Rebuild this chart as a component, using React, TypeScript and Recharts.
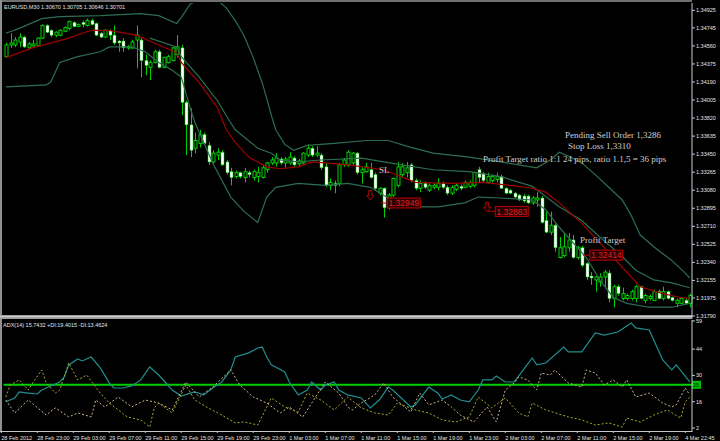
import React from 'react';
import { ComposedChart, Bar, Line, XAxis, YAxis, ReferenceDot, ReferenceLine } from 'recharts';

// ---------- price data (EURUSD M30), one value per bar ----------
const opens = [1.3445,1.3457,1.3457,1.3460,1.3465,1.3454,1.3456,1.3456,1.3464,1.3477,
1.3472,1.3467,1.3467,1.3471,1.3474,1.3480,1.3476,1.3480,1.3477,1.3482,
1.3479,1.3469,1.3465,1.3472,1.3467,1.3461,1.3461,1.3454,1.3454,1.3462,
1.3462,1.3441,1.3434,1.3439,1.3450,1.3434,1.3439,1.3441,1.3447,1.3454,
1.3398,1.3375,1.3351,1.3356,1.3365,1.3354,1.3337,1.3344,1.3347,1.3337,
1.3327,1.3322,1.3326,1.3321,1.3326,1.3321,1.3322,1.3321,1.3329,1.3336,
1.3336,1.3340,1.3336,1.3336,1.3341,1.3335,1.3336,1.3344,1.3351,1.3344,
1.3344,1.3332,1.3313,1.3315,1.3315,1.3334,1.3334,1.3336,1.3346,1.3326,
1.3327,1.3329,1.3324,1.3305,1.3310,1.3290,1.3303,1.3313,1.3324,1.3326,
1.3334,1.3318,1.3310,1.3315,1.3308,1.3311,1.3311,1.3315,1.3311,1.3305,
1.3309,1.3312,1.3311,1.3312,1.3313,1.3329,1.3325,1.3316,1.3318,1.3319,
1.3322,1.3310,1.3308,1.3305,1.3303,1.3302,1.3302,1.3295,1.3298,1.3300,
1.3277,1.3265,1.3272,1.3239,1.3241,1.3249,1.3257,1.3239,1.3249,1.3233,
1.3220,1.3216,1.3214,1.3219,1.3223,1.3197,1.3209,1.3197,1.3197,1.3197,
1.3197,1.3209,1.3195,1.3197,1.3195,1.3204,1.3197,1.3204,1.3198,1.3192,
1.3192,1.3195,1.3192];

const highs = [1.3459,1.3469,1.3465,1.3469,1.3466,1.3460,1.3462,1.3465,1.3478,1.3478,
1.3473,1.3471,1.3473,1.3476,1.3482,1.3481,1.3479,1.3482,1.3484,1.3484,
1.3480,1.3470,1.3473,1.3473,1.3477,1.3462,1.3464,1.3457,1.3462,1.3477,
1.3464,1.3447,1.3441,1.3452,1.3452,1.3445,1.3447,1.3455,1.3467,1.3457,
1.3400,1.3392,1.3367,1.3370,1.3367,1.3357,1.3349,1.3351,1.3349,1.3339,
1.3331,1.3328,1.3327,1.3331,1.3328,1.3329,1.3332,1.3333,1.3337,1.3342,
1.3346,1.3342,1.3342,1.3347,1.3343,1.3340,1.3347,1.3355,1.3353,1.3353,
1.3346,1.3336,1.3320,1.3318,1.3336,1.3341,1.3349,1.3347,1.3347,1.3332,
1.3336,1.3336,1.3326,1.3311,1.3311,1.3305,1.3321,1.3337,1.3336,1.3337,
1.3336,1.3320,1.3318,1.3317,1.3315,1.3315,1.3320,1.3317,1.3313,1.3313,
1.3315,1.3314,1.3318,1.3318,1.3327,1.3332,1.3327,1.3326,1.3324,1.3326,
1.3324,1.3311,1.3309,1.3306,1.3304,1.3304,1.3303,1.3302,1.3306,1.3302,
1.3286,1.3286,1.3274,1.3260,1.3264,1.3264,1.3262,1.3251,1.3251,1.3234,
1.3224,1.3220,1.3223,1.3226,1.3226,1.3211,1.3211,1.3208,1.3202,1.3206,
1.3211,1.3210,1.3202,1.3201,1.3206,1.3206,1.3209,1.3205,1.3199,1.3197,
1.3198,1.3197,1.3202];

const lows = [1.3444,1.3454,1.3455,1.3455,1.3454,1.3453,1.3454,1.3455,1.3463,1.3469,
1.3465,1.3465,1.3466,1.3470,1.3472,1.3475,1.3475,1.3475,1.3476,1.3477,
1.3466,1.3464,1.3464,1.3462,1.3457,1.3450,1.3450,1.3452,1.3453,1.3433,
1.3424,1.3426,1.3421,1.3438,1.3433,1.3433,1.3438,1.3440,1.3444,1.3385,
1.3344,1.3342,1.3346,1.3352,1.3354,1.3334,1.3336,1.3339,1.3333,1.3324,
1.3313,1.3320,1.3320,1.3316,1.3321,1.3318,1.3316,1.3320,1.3326,1.3334,
1.3332,1.3334,1.3331,1.3334,1.3332,1.3333,1.3334,1.3342,1.3342,1.3342,
1.3329,1.3311,1.3308,1.3305,1.3312,1.3332,1.3332,1.3334,1.3324,1.3315,
1.3326,1.3320,1.3308,1.3303,1.3280,1.3288,1.3301,1.3311,1.3321,1.3321,
1.3316,1.3308,1.3306,1.3309,1.3306,1.3309,1.3308,1.3309,1.3303,1.3303,
1.3307,1.3308,1.3310,1.3310,1.3311,1.3315,1.3316,1.3315,1.3316,1.3316,
1.3309,1.3304,1.3304,1.3300,1.3297,1.3295,1.3294,1.3293,1.3291,1.3274,
1.3264,1.3262,1.3245,1.3238,1.3239,1.3245,1.3238,1.3237,1.3229,1.3216,
1.3211,1.3204,1.3209,1.3208,1.3193,1.3188,1.3200,1.3195,1.3195,1.3195,
1.3193,1.3196,1.3192,1.3195,1.3194,1.3196,1.3195,1.3196,1.3194,1.3188,
1.3191,1.3191,1.3188];

const closes = [1.3457,1.3459,1.3462,1.3465,1.3455,1.3458,1.3458,1.3464,1.3477,1.3470,
1.3467,1.3470,1.3472,1.3475,1.3481,1.3476,1.3478,1.3478,1.3482,1.3478,
1.3467,1.3465,1.3472,1.3467,1.3459,1.3459,1.3454,1.3455,1.3460,1.3467,
1.3441,1.3436,1.3439,1.3450,1.3434,1.3444,1.3445,1.3454,1.3455,1.3398,
1.3375,1.3349,1.3359,1.3365,1.3356,1.3337,1.3346,1.3347,1.3334,1.3326,
1.3321,1.3326,1.3322,1.3327,1.3324,1.3327,1.3326,1.3331,1.3336,1.3339,
1.3341,1.3336,1.3340,1.3342,1.3334,1.3338,1.3346,1.3351,1.3344,1.3346,
1.3331,1.3313,1.3316,1.3313,1.3334,1.3339,1.3347,1.3346,1.3326,1.3329,
1.3332,1.3321,1.3310,1.3310,1.3290,1.3303,1.3320,1.3332,1.3332,1.3331,
1.3318,1.3310,1.3315,1.3311,1.3313,1.3313,1.3315,1.3311,1.3305,1.3311,
1.3313,1.3310,1.3316,1.3316,1.3326,1.3321,1.3318,1.3322,1.3322,1.3322,
1.3310,1.3305,1.3305,1.3301,1.3298,1.3297,1.3295,1.3300,1.3300,1.3275,
1.3265,1.3272,1.3249,1.3249,1.3250,1.3257,1.3239,1.3249,1.3231,1.3219,
1.3218,1.3219,1.3219,1.3224,1.3197,1.3209,1.3202,1.3202,1.3200,1.3204,
1.3209,1.3197,1.3200,1.3199,1.3204,1.3197,1.3204,1.3197,1.3195,1.3195,
1.3197,1.3192,1.3200];

// ---------- indicator lines (bar index, value) ----------
const bandOuterUpper: [number, number][] = [[0,1.3469],[3,1.3474],[8,1.3484],[12,1.3486],[21,1.3487],[30,1.3489],[34,1.3487],[38,1.3479],[39,1.3485],[41,1.3499],[43,1.3503],[47,1.3503],[49,1.3495],[51,1.3482],[53,1.3466],[55,1.3444],[57,1.3418],[58,1.3402],[59,1.3385],[60,1.3370],[62,1.3355],[64,1.3349],[67,1.3354],[73,1.3356],[80,1.3359],[85,1.3359],[90,1.3352],[95,1.3346],[103,1.3342],[110,1.3337],[118,1.3331],[121,1.3339],[123,1.3347],[125,1.3343],[128,1.3336],[131,1.3324],[134,1.3311],[137,1.3298],[139,1.3282],[141,1.3262],[144,1.3250],[148,1.3236],[151,1.3223],[152,1.3218]];
const bandInnerUpper: [number, number][] = [[32,1.3464],[38,1.3455],[39,1.3445],[43,1.3424],[47,1.3400],[50,1.3377],[51,1.3370],[56,1.3351],[59,1.3346],[61,1.3339],[65,1.3337],[70,1.3339],[79,1.3341],[88,1.3334],[95,1.3329],[103,1.3327],[110,1.3322],[117,1.3312],[123,1.3291],[128,1.3277],[132,1.3260],[137,1.3240],[140,1.3226],[144,1.3216],[148,1.3213],[152,1.3208]];
const bandOuterLower: [number, number][] = [[0,1.3414],[9,1.3416],[10,1.3419],[12,1.3439],[16,1.3445],[21,1.3450],[23,1.3455],[28,1.3455],[31,1.3450],[34,1.3439],[37,1.3431],[39,1.3424],[41,1.3392],[42,1.3378],[46,1.3336],[50,1.3301],[53,1.3286],[56,1.3275],[58,1.3301],[60,1.3311],[65,1.3315],[71,1.3313],[76,1.3315],[81,1.3311],[85,1.3300],[91,1.3291],[96,1.3291],[102,1.3295],[105,1.3301],[110,1.3300],[117,1.3298],[120,1.3288],[123,1.3270],[129,1.3239],[132,1.3216],[135,1.3198],[138,1.3192],[143,1.3188],[148,1.3188],[152,1.3192]];
const movingAverage: [number, number][] = [[0,1.3444],[6,1.3454],[14,1.3464],[19,1.3472],[23,1.3472],[29,1.3467],[34,1.3457],[38,1.3449],[39,1.3439],[43,1.3418],[47,1.3393],[49,1.3370],[51,1.3357],[54,1.3342],[58,1.3332],[61,1.3330],[65,1.3332],[68,1.3337],[71,1.3336],[76,1.3334],[84,1.3329],[91,1.3316],[99,1.3315],[106,1.3316],[112,1.3313],[117,1.3310],[120,1.3306],[123,1.3295],[128,1.3274],[132,1.3254],[137,1.3229],[141,1.3209],[146,1.3202],[150,1.3198],[152,1.3197]];

const adxMain: [number, number][] = [[0,16.0],[2,18.0],[3,21.2],[5,20.6],[7,20.1],[8,22.2],[10,24.4],[12,26.5],[13,29.2],[14,35.6],[16,38.8],[17,37.7],[19,39.8],[21,34.0],[23,26.0],[24,23.3],[26,23.3],[28,24.4],[30,27.6],[32,34.5],[34,30.2],[36,24.9],[37,22.2],[39,19.0],[41,20.6],[42,21.2],[44,19.6],[46,23.3],[48,26.5],[50,32.9],[51,39.8],[54,42.0],[56,44.6],[57,45.1],[58,39.8],[59,35.6],[62,31.8],[63,26.5],[65,19.6],[67,22.2],[68,26.5],[70,22.2],[71,24.9],[73,26.5],[74,22.2],[76,19.6],[79,18.0],[81,12.7],[83,16.9],[85,23.8],[86,22.2],[90,13.2],[91,14.3],[94,23.8],[96,20.6],[97,17.4],[99,19.6],[101,16.9],[103,15.9],[105,22.2],[106,27.6],[108,27.6],[109,29.7],[111,26.5],[113,26.5],[115,32.9],[117,39.3],[118,35.6],[120,36.6],[124,45.1],[125,42.5],[128,42.5],[131,52.6],[133,51.5],[136,53.1],[139,57.9],[140,55.3],[143,54.2],[146,38.2],[148,32.9],[149,35.6],[152,26.5]];
const diMinus: [number, number][] = [[0,18.5],[1,24.9],[3,27.6],[5,22.2],[6,26.0],[8,32.9],[9,26.0],[11,20.6],[12,22.2],[14,36.6],[16,27.6],[18,30.2],[21,20.6],[23,15.3],[27,7.9],[30,6.3],[32,2.5],[33,12.7],[34,15.3],[37,10.0],[40,24.9],[42,16.9],[45,12.7],[48,8.9],[51,4.7],[53,5.2],[56,3.6],[59,18.0],[62,13.2],[65,10.5],[67,20.6],[70,16.9],[73,11.6],[76,18.5],[79,12.7],[82,10.0],[85,8.9],[87,15.3],[91,11.6],[94,10.0],[97,6.3],[100,5.2],[103,7.9],[105,18.5],[108,12.7],[111,18.0],[114,10.0],[116,7.9],[117,15.3],[120,11.6],[125,7.9],[128,6.3],[131,3.6],[134,4.7],[137,2.5],[138,7.3],[141,5.2],[144,8.9],[147,11.6],[150,7.3],[151,15.9],[152,18.5]];
const diPlus: [number, number][] = [[0,16.9],[2,10.0],[5,16.9],[9,8.9],[11,12.7],[14,7.9],[16,10.0],[19,7.9],[20,16.9],[22,13.2],[25,18.5],[28,13.2],[31,16.9],[34,15.3],[37,11.6],[40,26.5],[43,18.5],[46,23.8],[50,32.9],[52,24.9],[55,18.5],[58,15.3],[61,10.0],[63,13.2],[66,7.9],[68,15.3],[71,26.5],[74,20.6],[76,13.2],[77,11.6],[79,15.3],[82,19.6],[84,26.0],[86,18.5],[90,10.5],[92,20.6],[94,14.3],[97,16.9],[99,13.2],[101,8.9],[104,5.2],[107,13.2],[109,5.2],[111,22.2],[113,26.0],[114,29.2],[116,27.6],[118,22.2],[119,31.3],[121,30.2],[122,32.9],[125,26.0],[128,23.8],[129,32.9],[131,31.3],[133,24.9],[135,27.6],[137,23.8],[138,27.6],[140,18.5],[143,20.6],[146,15.3],[148,13.2],[149,14.3],[151,23.3],[152,19.6]];

// ---------- axes ----------
const timeLabels: [number, string][] = [[0,'28 Feb 2012'],[8,'28 Feb 23:00'],[16,'29 Feb 03:00'],[24,'29 Feb 07:00'],[32,'29 Feb 11:00'],[40,'29 Feb 15:00'],[48,'29 Feb 19:00'],[56,'29 Feb 23:00'],[64,'1 Mar 03:00'],[72,'1 Mar 07:00'],[80,'1 Mar 11:00'],[88,'1 Mar 15:00'],[96,'1 Mar 19:00'],[104,'1 Mar 23:00'],[112,'2 Mar 03:00'],[120,'2 Mar 07:00'],[128,'2 Mar 11:00'],[136,'2 Mar 15:00'],[144,'2 Mar 19:00'],[152,'4 Mar 22:45']];
const priceTicks = [1.34925,1.34745,1.3456,1.34375,1.3419,1.34005,1.3382,1.33635,1.3345,1.33265,1.3308,1.32895,1.3271,1.32525,1.3234,1.32155,1.31975,1.3179];
const adxTicks = [2,16,30,44,59];
const adxLevel = 25;

// ---------- chart objects ----------
const priceBoxes: { i: number; price: number; text: string }[] = [
  { i: 85, price: 1.32949, text: '1.32949' },
  { i: 109, price: 1.32863, text: '1.32863' },
  { i: 130, price: 1.32414, text: '1.32414' },
];
const sellArrows: { i: number; price: number }[] = [
  { i: 81, price: 1.33025 },
  { i: 107, price: 1.32905 },
];

const toMap = (pts: [number, number][]) => new Map(pts);
const mOU = toMap(bandOuterUpper), mIU = toMap(bandInnerUpper), mOL = toMap(bandOuterLower), mMA = toMap(movingAverage);
const mADX = toMap(adxMain), mP = toMap(diPlus), mM = toMap(diMinus);

const rows = opens.map((o, i) => ({
  i,
  open: o, high: highs[i], low: lows[i], close: closes[i],
  range: [lows[i], highs[i]],
  ou: mOU.get(i), iu: mIU.get(i), ol: mOL.get(i), ma: mMA.get(i),
  adx: mADX.get(i), pdi: mP.get(i), mdi: mM.get(i),
}));
const labelMap = new Map(timeLabels);

const GREEN = '#00d000';
const BAND = '#2d6e50';
const AXIS_TEXT = '#e4e4e4';
const FONT = 'Liberation Sans, Arial, sans-serif';

const Candle = (props: any) => {
  const { x, y, width, height, payload } = props;
  if (!payload || x == null) return null;
  const top = Math.min(y, y + height);
  const h = Math.abs(height);
  const { open, close, high, low } = payload;
  const span = high - low || 1e-9;
  const py = (v: number) => top + ((high - v) / span) * h;
  const cx = Math.round(x + width / 2) + 0.5;
  const yo = py(open), yc = py(close);
  const bull = close > open;
  const bt = Math.min(yo, yc);
  const bh = Math.max(Math.abs(yc - yo), 1);
  return (
    <g>
      <line x1={cx} x2={cx} y1={top} y2={top + h} stroke={GREEN} strokeWidth={1} />
      <rect x={cx - 1.5} y={bt} width={3} height={bh} fill={bull ? '#000' : '#ffffff'} stroke={GREEN} strokeWidth={bull ? 1 : 0.5} />
    </g>
  );
};

const PriceBox = (props: any) => {
  const { cx, cy, text } = props;
  if (cx == null) return null;
  const left = cx - 1;
  return (
    <g>
      <line x1={left - 7} x2={left} y1={cy} y2={cy} stroke="#b00000" strokeWidth={1} />
      <rect x={left} y={cy - 5} width={33} height={10} fill="#2a0000" stroke="#c00000" strokeWidth={1} />
      <text x={left + 16.5} y={cy + 3.2} textAnchor="middle" fontSize={8.5} fontFamily={FONT} fill="#e02020">{text}</text>
    </g>
  );
};

const SellArrow = (props: any) => {
  const { cx, cy } = props;
  if (cx == null) return null;
  const d = `M ${cx - 1.5} ${cy - 5} L ${cx + 1.5} ${cy - 5} L ${cx + 1.5} ${cy} L ${cx + 3.5} ${cy} L ${cx} ${cy + 4.5} L ${cx - 3.5} ${cy} L ${cx - 1.5} ${cy} Z`;
  return <path d={d} fill="none" stroke="#c00000" strokeWidth={1} />;
};

const TimeTick = (props: any) => {
  const { x, y, payload } = props;
  return (
    <g>
      <line x1={x - 4.5} x2={x - 4.5} y1={y} y2={y + 2} stroke="#c8c8c8" />
      <text x={x - 4.5} y={y + 8.5} fontSize={5.5} fontFamily={FONT} fill={AXIS_TEXT}>{labelMap.get(payload.value)}</text>
    </g>
  );
};

const LevelLabel = (props: any) => {
  const vb = props.viewBox || {};
  const x = (vb.x ?? 0) + (vb.width ?? 0);
  const y = vb.y ?? 0;
  return (
    <g>
      <rect x={x} y={y - 4} width={9} height={8} fill="#00c000" />
      <text x={x + 1} y={y + 2.3} fontSize={5.5} fontFamily={FONT} fill="#002000">{adxLevel}</text>
    </g>
  );
};

const annoStyle = { fontSize: 9, fontFamily: 'Liberation Serif, serif', fill: '#cfcfcf' } as const;

export default function App() {
  return (
    <div style={{ position: 'absolute', left: 0, top: 0, width: 720, height: 441, background: '#000', overflow: 'hidden' }}>
      <div style={{ position: 'absolute', left: 0, top: 0 }}>
        <ComposedChart width={720} height={318} data={rows} margin={{ top: 3, right: 0, left: 3.5, bottom: 2 }} barCategoryGap={0}>
          <XAxis dataKey="i" type="category" hide />
          <YAxis
            orientation="right"
            width={28}
            domain={[1.3179, 1.35]}
            allowDataOverflow
            ticks={priceTicks}
            interval={0}
            tickFormatter={(v: number) => v.toFixed(5)}
            tick={{ fill: AXIS_TEXT, fontSize: 5.5, fontFamily: FONT }}
            tickSize={3}
            tickMargin={1}
            axisLine={{ stroke: '#c8c8c8' }}
            tickLine={{ stroke: '#c8c8c8' }}
          />
          <Bar dataKey="range" barSize={3} isAnimationActive={false} shape={(p: any) => <Candle {...p} />} />
          <Line dataKey="ou" stroke={BAND} strokeWidth={1.2} dot={false} connectNulls isAnimationActive={false} />
          <Line dataKey="iu" stroke={BAND} strokeWidth={1.2} dot={false} connectNulls isAnimationActive={false} />
          <Line dataKey="ol" stroke={BAND} strokeWidth={1.2} dot={false} connectNulls isAnimationActive={false} />
          <Line dataKey="ma" stroke="#a00000" strokeWidth={1.2} dot={false} connectNulls isAnimationActive={false} />
          {sellArrows.map((a, k) => (
            <ReferenceDot key={'a' + k} x={a.i} y={a.price} shape={(p: any) => <SellArrow {...p} />} />
          ))}
          {priceBoxes.map((b, k) => (
            <ReferenceDot key={'b' + k} x={b.i} y={b.price} shape={(p: any) => <PriceBox {...p} text={b.text} />} />
          ))}
        </ComposedChart>
      </div>
      <div style={{ position: 'absolute', left: 0, top: 318 }}>
        <ComposedChart width={720} height={123} data={rows} margin={{ top: 2, right: 0, left: 3.5, bottom: 0 }}>
          <XAxis
            dataKey="i"
            type="number"
            domain={[-0.5, 152.5]}
            allowDataOverflow
            ticks={timeLabels.map((t) => t[0])}
            interval={0}
            height={10}
            tickSize={0}
            tickMargin={0}
            axisLine={false}
            tickLine={false}
            tick={(p: any) => <TimeTick {...p} />}
          />
          <YAxis
            orientation="right"
            width={28}
            domain={[0.4, 59.5]}
            allowDataOverflow
            ticks={adxTicks}
            interval={0}
            tick={{ fill: AXIS_TEXT, fontSize: 5.5, fontFamily: FONT }}
            tickSize={3}
            tickMargin={1}
            axisLine={{ stroke: '#c8c8c8' }}
            tickLine={{ stroke: '#c8c8c8' }}
          />
          <ReferenceLine y={adxLevel} stroke="#00d000" strokeWidth={2} label={<LevelLabel />} />
          <Line dataKey="adx" stroke="#1f9090" strokeWidth={1.2} dot={false} connectNulls isAnimationActive={false} />
          <Line dataKey="pdi" stroke="#c8b48c" strokeWidth={1} strokeDasharray="2 2" dot={false} connectNulls isAnimationActive={false} />
          <Line dataKey="mdi" stroke="#a8a828" strokeWidth={1} strokeDasharray="2 2" dot={false} connectNulls isAnimationActive={false} />
        </ComposedChart>
      </div>
      <svg width={720} height={441} style={{ position: 'absolute', left: 0, top: 0, pointerEvents: 'none' }}>
        <line x1={0} x2={692} y1={1} y2={1} stroke="#707070" strokeWidth={2} />
        <line x1={1} x2={1} y1={0} y2={432} stroke="#909090" strokeWidth={2} />
        <rect x={0} y={315} width={692.5} height={4} fill="#a0a0a0" />
        <line x1={0} x2={692.5} y1={316.5} y2={316.5} stroke="#d0d0d0" strokeWidth={1} />
        <line x1={0} x2={692.5} y1={431.5} y2={431.5} stroke="#c8c8c8" strokeWidth={1} />
        <text x={4} y={8.5} fontSize={5.5} fontFamily={FONT} fill={AXIS_TEXT}>EURUSD,M30  1.30670 1.30705 1.30646 1.30701</text>
        <text x={3} y={327} fontSize={5.5} fontFamily={FONT} fill={AXIS_TEXT}>ADX(14) 15.7432 +DI:19.4015 -DI:13.4624</text>
        <text x={565} y={138} {...annoStyle}>Pending Sell Order 1,3286</text>
        <text x={568} y={148.5} {...annoStyle}>Stop Loss 1,3310</text>
        <text x={483} y={162} {...annoStyle}>Profit Target ratio 1:1 24 pips, ratio 1.1,5 = 36 pips</text>
        <text x={379} y={173} {...annoStyle}>SL</text>
        <text x={580} y={243} {...annoStyle}>Profit Target</text>
      </svg>
    </div>
  );
}
